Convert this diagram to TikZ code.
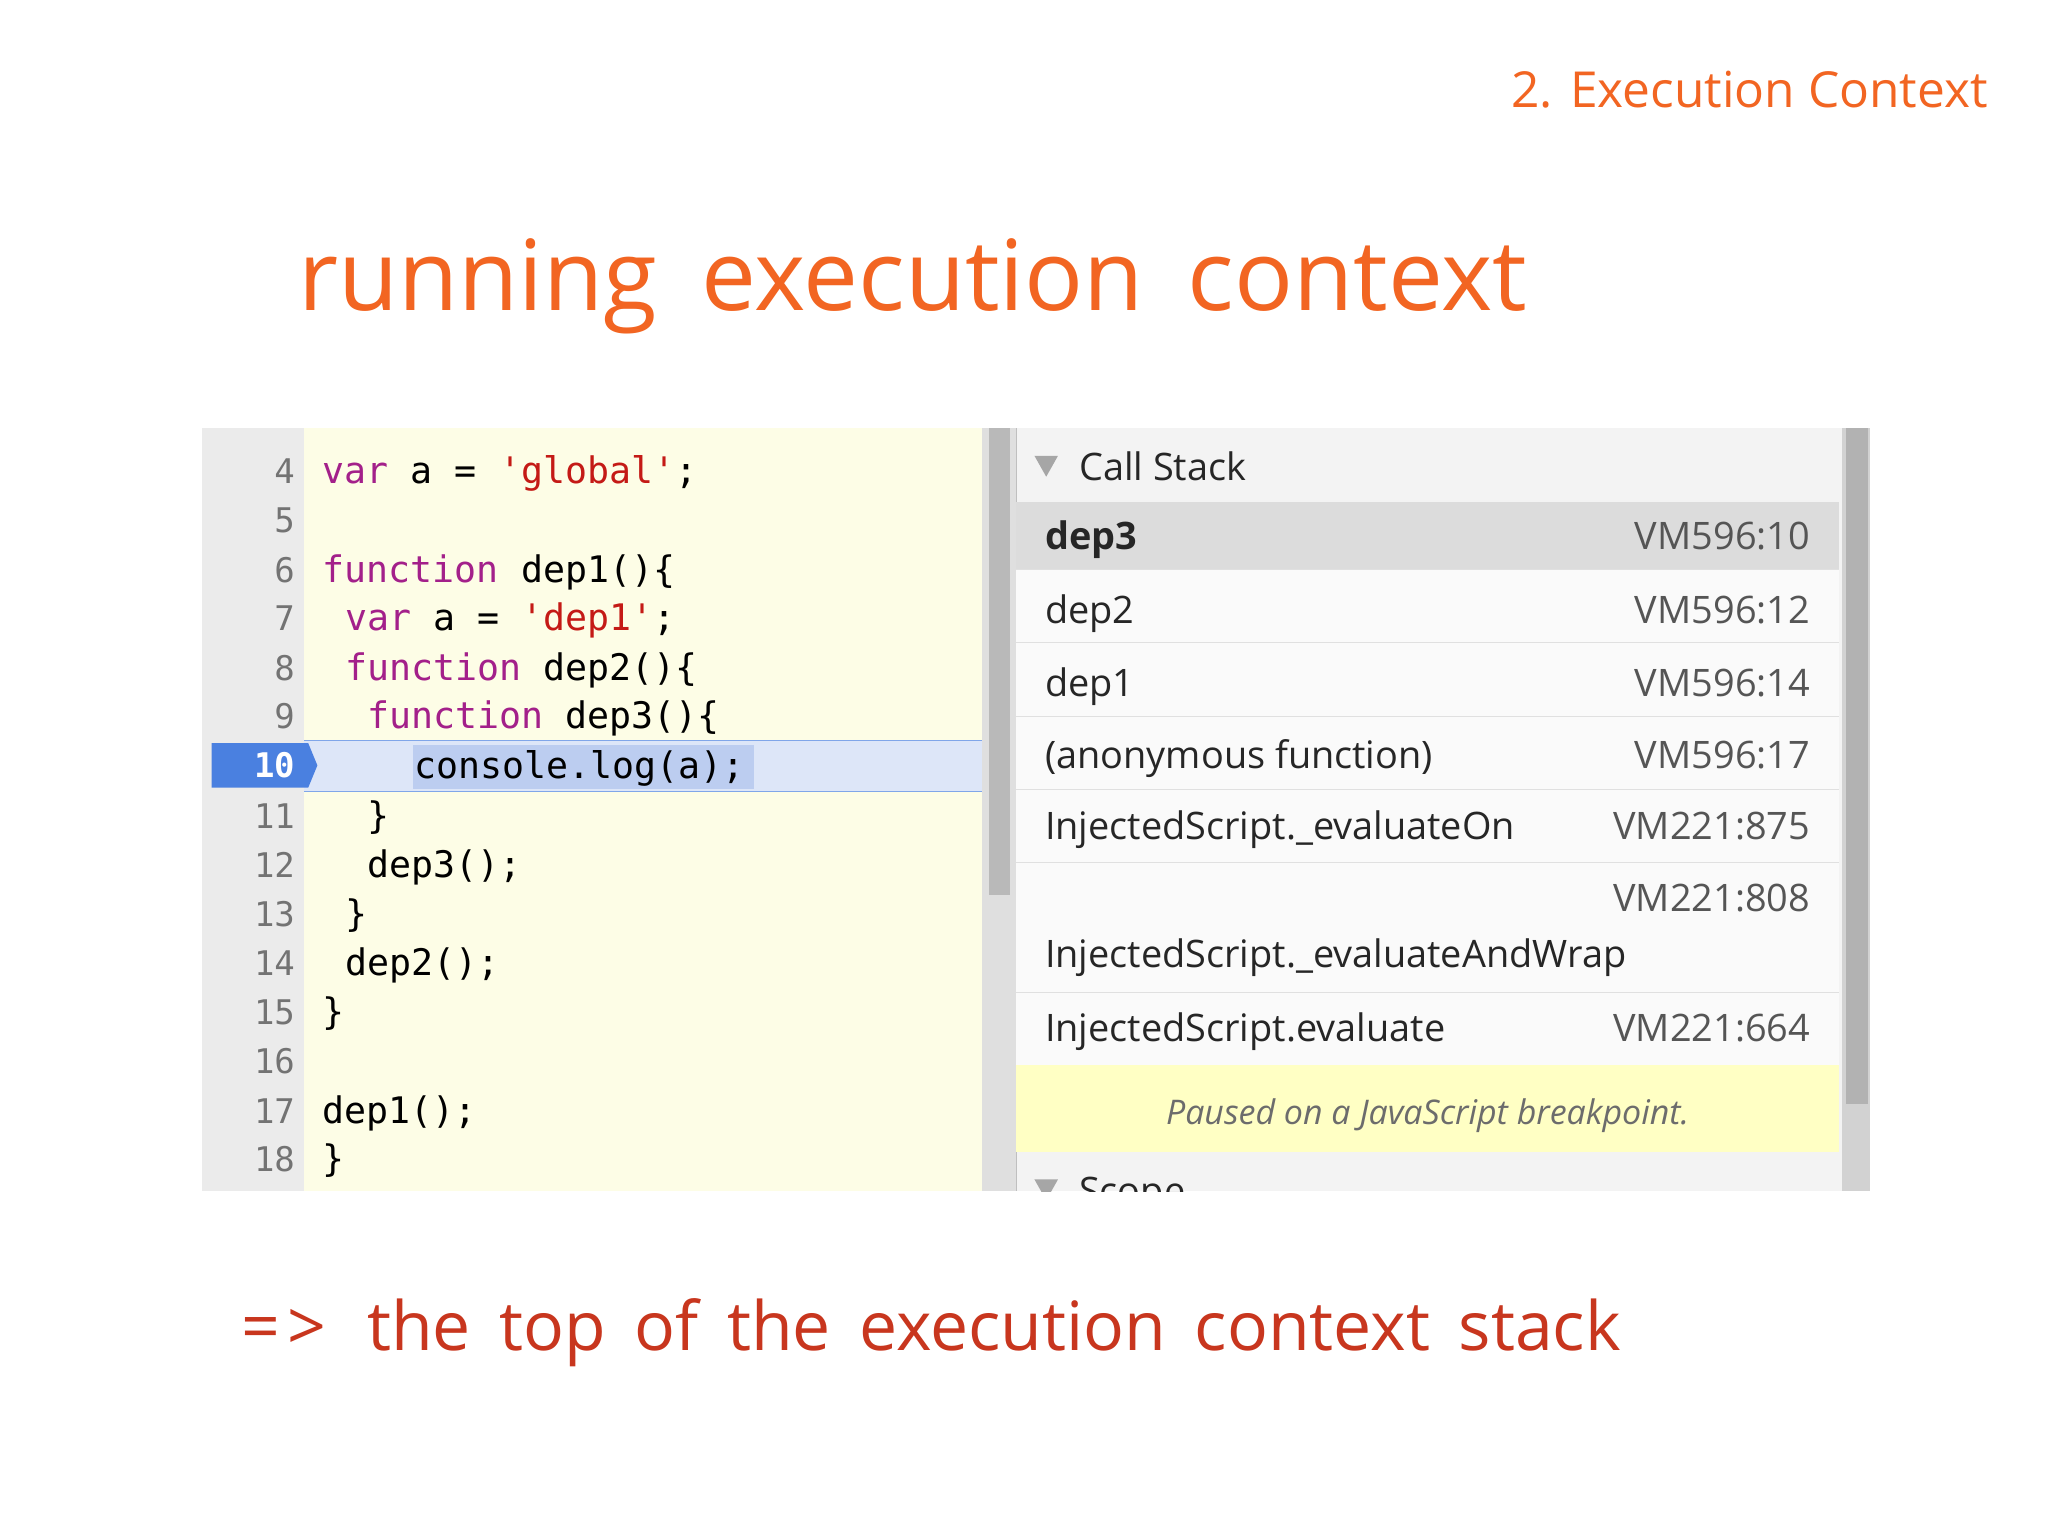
\documentclass[tikz,border=0pt]{standalone}
\usepackage{fontspec}
\setmainfont{Open Sans}
\setmonofont{DejaVu Sans Mono}
\definecolor{org}{HTML}{F26522}
\definecolor{dred}{HTML}{C8361E}
\definecolor{kw}{HTML}{A3208A}
\definecolor{str}{HTML}{C41A16}
\definecolor{codebg}{HTML}{FDFDE6}
\definecolor{gut}{HTML}{EBEBEB}
\definecolor{panel}{HTML}{F3F3F3}
\definecolor{rowbg}{HTML}{FAFAFA}
\definecolor{selrow}{HTML}{DCDCDC}
\definecolor{hl}{HTML}{DDE6F8}
\definecolor{hlsel}{HTML}{BCCDF0}
\definecolor{blu}{HTML}{4A80E0}
\definecolor{vm}{HTML}{555555}
\definecolor{pause}{HTML}{FFFFC4}
\begin{document}
\begin{tikzpicture}[x=1pt,y=-1pt,
  ln/.style={anchor=base east,font=\fontsize{26}{26}\ttfamily,text=gray!90!black,inner sep=0},
  cd/.style={anchor=base west,font=\fontsize{28}{28}\ttfamily,inner sep=0},
  cs/.style={anchor=base west,font=\fontsize{29}{29}\selectfont,text=black!85,inner sep=0},
  vmt/.style={anchor=base east,font=\fontsize{29}{29}\selectfont,text=vm,inner sep=0}]
\useasboundingbox (0,0) rectangle (1568,1176);
\fill[white] (0,0) rectangle (1568,1176);
\node[anchor=base east,text=org,font=\fontsize{38}{38}\selectfont,inner sep=0] (hdr) at (1522,82) {2. Execution Context};
\node[anchor=base west,text=org,font=\fontsize{75}{75}\selectfont,inner sep=0] (title) at (228,238) {\spaceskip=0.45em\relax running execution context};
% code panel
\fill[gut] (155,328) rectangle (233,912);
\fill[codebg] (233,328) rectangle (752,912);
\fill[hl] (233,567) rectangle (752,606);
\draw[blu!70] (233,567) -- (752,567) (233,606) -- (752,606);
\fill[hlsel] (316,570) rectangle (577,604);
\fill[blu] (162,569) -- (236,569) -- (243,586) -- (236,603) -- (162,603) -- cycle;
\node[anchor=base east,font=\fontsize{26}{26}\ttfamily\bfseries,text=white,inner sep=0] (n10) at (226,595) {10};
\fill[gray!25] (752,328) rectangle (778,912);
\fill[gray!55] (757,328) rectangle (773,685);
\foreach \n/\y in {4/370,5/408,6/446,7/483,8/521,9/558,11/634,12/672,13/709,14/747,15/784,16/822,17/860,18/897}
  \node[ln] (l\n) at (226,\y) {\n};
\node[cd] (c4) at (247,370) {\textcolor{kw}{var} a = \textcolor{str}{'global'};};
\node[cd] (c6) at (247,446) {\textcolor{kw}{function} dep1()\{};
\node[cd] (c7) at (264,483) {\textcolor{kw}{var} a = \textcolor{str}{'dep1'};};
\node[cd] (c8) at (264,521) {\textcolor{kw}{function} dep2()\{};
\node[cd] (c9) at (281,558) {\textcolor{kw}{function} dep3()\{};
\node[cd] (c10) at (317,596) {console.log(a);};
\node[cd] (c11) at (281,634) {\}};
\node[cd] (c12) at (281,672) {dep3();};
\node[cd] (c13) at (264,709) {\}};
\node[cd] (c14) at (264,747) {dep2();};
\node[cd] (c15) at (247,784) {\}};
\node[cd] (c17) at (247,860) {dep1();};
\node[cd] (c18) at (247,897) {\}};
% call stack panel
\fill[panel] (778,328) rectangle (1410,912);
\draw[gray!50] (778,328) -- (778,912);
\fill[rowbg] (778,384) rectangle (1408,815);
\fill[selrow] (778,384) rectangle (1408,436);
\foreach \y in {436,492,548,604,660,760} \draw[white!88!black] (778,\y) -- (1408,\y);
\fill[gray!35] (1410,328) rectangle (1432,912);
\fill[gray!60] (1413,328) rectangle (1430,845);
\fill[gray!70] (792,349) -- (810,349) -- (801,365) -- cycle;
\node[cs] (hcs) at (826,368) {Call Stack};
\node[cs,font=\fontsize{29}{29}\selectfont\bfseries] (r1) at (800,421) {dep3};
\node[vmt] (v1) at (1386,421) {VM596:10};
\node[cs] (r2) at (800,477) {dep2};
\node[vmt] (v2) at (1386,477) {VM596:12};
\node[cs] (r3) at (800,533) {dep1};
\node[vmt] (v3) at (1386,533) {VM596:14};
\node[cs] (r4) at (800,588) {(anonymous function)};
\node[vmt] (v4) at (1386,588) {VM596:17};
\node[cs] (r5) at (800,643) {InjectedScript.\_evaluateOn};
\node[vmt] (v5) at (1386,643) {VM221:875};
\node[vmt] (v6) at (1386,698) {VM221:808};
\node[cs] (r6) at (800,741) {InjectedScript.\_evaluateAndWrap};
\node[cs] (r7) at (800,797) {InjectedScript.evaluate};
\node[vmt] (v7) at (1386,797) {VM221:664};
\fill[pause] (778,815) rectangle (1408,882);
\node[anchor=base,font=\fontsize{26}{26}\itshape,text=gray!85!black,inner sep=0] (pause) at (1093,861) {Paused on a JavaScript breakpoint.};
\begin{scope}
\clip (778,882) rectangle (1410,912);
\fill[gray!70] (792,903) -- (810,903) -- (801,919) -- cycle;
\node[cs] (scope) at (826,922) {Scope};
\end{scope}
\node[anchor=base west,text=dred,font=\fontsize{52}{52}\selectfont,inner sep=0] (bot) at (185,1034) {\spaceskip=0.42em\relax =\kern0.1em>\hspace{0.6em}the top of the execution context stack};
\end{tikzpicture}
\end{document}
